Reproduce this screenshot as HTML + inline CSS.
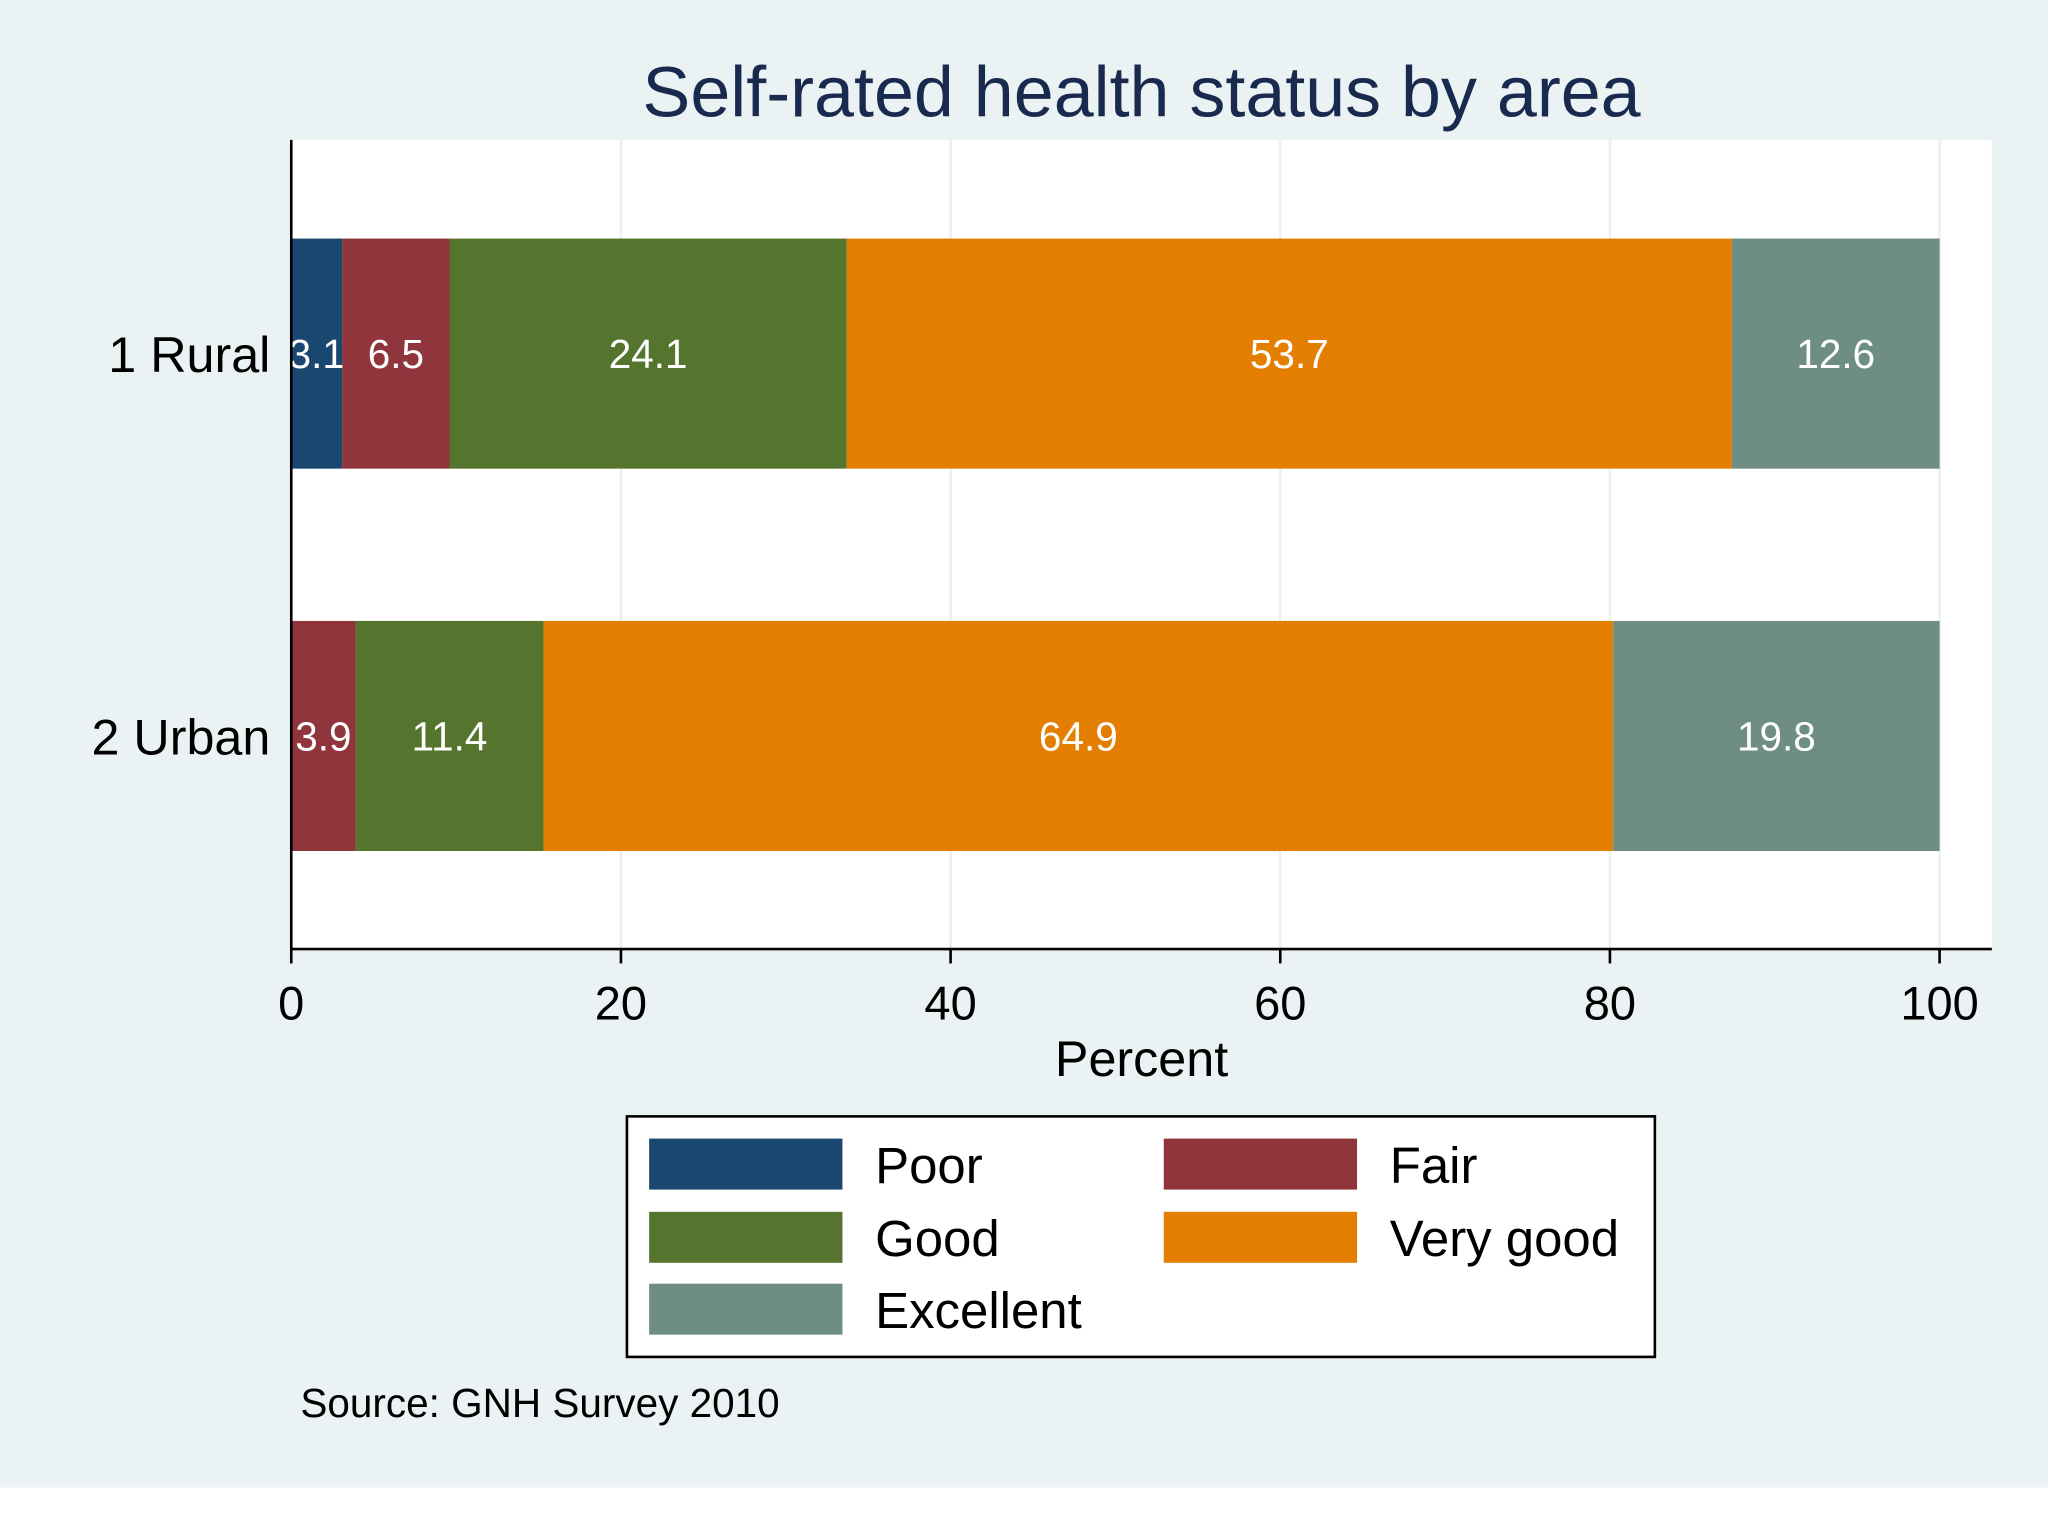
<!DOCTYPE html>
<html><head><meta charset="utf-8"><style>
html,body{margin:0;padding:0;background:#fff}
svg{display:block;font-family:"Liberation Sans",Arial,sans-serif}
</style></head><body>
<svg id="chart" width="2048" height="1536" viewBox="0 0 1568 1175" preserveAspectRatio="none">
<rect x="0" y="0" width="1568" height="1138" fill="#eaf2f3"/>
<text x="874" y="89" text-anchor="middle" font-size="55" fill="#1a2a4f">Self-rated health status by area</text>
<rect x="223" y="107" width="1302" height="619" fill="#ffffff"/>
<g id="grid"></g>
<g id="bars"></g>
<line x1="223" y1="107" x2="223" y2="726" stroke="#000" stroke-width="2"/>
<line x1="223" y1="726" x2="1525" y2="726" stroke="#000" stroke-width="2"/>
<g id="ticks"></g>
<text x="874" y="823" text-anchor="middle" font-size="38.5" fill="#000">Percent</text>
<g>
<rect x="480" y="854" width="787" height="184" fill="#fff" stroke="#000" stroke-width="2"/>
<g id="legend"></g>
</g>
<text x="230" y="1084" font-size="31" fill="#000">Source: GNH Survey 2010</text>
</svg>
<script>
const categories = ["1 Rural", "2 Urban"];
const seriesNames = ["Poor", "Fair", "Good", "Very good", "Excellent"];
const poor = [3.1, 0];
const fair = [6.5, 3.9];
const good = [24.1, 11.4];
const veryGood = [53.7, 64.9];
const excellent = [12.6, 19.8];
const tickValues = [0, 20, 40, 60, 80, 100];
const colors = ["#1a476f", "#90353b", "#55752f", "#e37e00", "#6e8e84"];
const series = [poor, fair, good, veryGood, excellent];

const NS = "http://www.w3.org/2000/svg";
const x0 = 223, x1 = 1485;
function xs(v){ return x0 + (v/100)*(x1-x0); }
const barCenters = [270.5, 563];
const barH = 176;
function mk(tag, attrs, parent){
  const e = document.createElementNS(NS, tag);
  for (const k in attrs) e.setAttribute(k, attrs[k]);
  parent.appendChild(e); return e;
}
const grid = document.getElementById("grid");
const ticks = document.getElementById("ticks");
tickValues.forEach(v => {
  if (v > 0) {
    const g = mk("line", {x1: xs(v), x2: xs(v), y1: 107, y2: 726, stroke: "#eaf2f3", "stroke-width": 2}, grid);
    
    
  }
  const t = mk("line", {x1: xs(v), x2: xs(v), y1: 726, y2: 737, stroke: "#000", "stroke-width": 2}, ticks);
  
  
  const l = mk("text", {x: xs(v), y: 780, "text-anchor": "middle", "font-size": 36, fill: "#000"}, ticks);
  l.textContent = v;
  
  
});
const bars = document.getElementById("bars");
categories.forEach((c, i) => {
  const cy = barCenters[i];
  const lab = mk("text", {x: 207, y: cy + 14, "text-anchor": "end", "font-size": 38.5, fill: "#000"}, ticks);
  lab.textContent = c;
  
  
  let cum = 0;
  series.forEach((s, j) => {
    const v = s[i];
    if (v > 0) {
      const r = mk("rect", {x: xs(cum), y: cy - barH/2, width: xs(cum + v) - xs(cum), height: barH, fill: colors[j]}, bars);
      
      
      const t = mk("text", {x: (xs(cum) + xs(cum + v))/2, y: cy + 11, "text-anchor": "middle", "font-size": 31, fill: "#fff"}, bars);
      t.textContent = v.toFixed(1);
      
      
    }
    cum += v;
  });
});
const legend = document.getElementById("legend");
const legPos = [[497,871],[891,871],[497,927],[891,927],[497,982]];
seriesNames.forEach((n, j) => {
  const [lx, ly] = legPos[j];
  const sw = mk("rect", {x: lx, y: ly, width: 148, height: 39, fill: colors[j]}, legend);
  
  
  const t = mk("text", {x: lx + 173, y: ly + 34, "font-size": 39, fill: "#000"}, legend);
  t.textContent = n;
  
  
});
</script>
</body></html>
